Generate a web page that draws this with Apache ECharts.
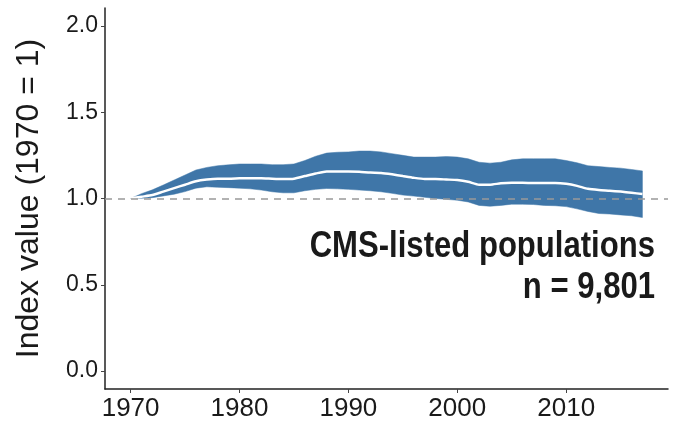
<!DOCTYPE html>
<html>
<head>
<meta charset="utf-8">
<script src="https://cdn.jsdelivr.net/npm/echarts@6/dist/echarts.min.js"></script>
<style>
    html, body { margin: 0; padding: 0; background: #fff; }
    #main { width: 685px; height: 430px; }
</style>
</head>
<body>
<div id="main"></div>
<script>
// years of the index
var yearAry = [1970, 1971, 1972, 1973, 1974, 1975, 1976, 1977, 1978, 1979,
    1980, 1981, 1982, 1983, 1984, 1985, 1986, 1987, 1988, 1989,
    1990, 1991, 1992, 1993, 1994, 1995, 1996, 1997, 1998, 1999,
    2000, 2001, 2002, 2003, 2004, 2005, 2006, 2007, 2008, 2009,
    2010, 2011, 2012, 2013, 2014, 2015, 2016, 2017];
// lower limit of the band
var lowerAry = [1.0, 1.002, 1.005, 1.015, 1.025, 1.04, 1.06, 1.068, 1.065, 1.063,
    1.06, 1.056, 1.049, 1.039, 1.033, 1.033, 1.045, 1.053, 1.058, 1.056,
    1.053, 1.049, 1.045, 1.039, 1.03, 1.02, 1.014, 1.007, 1.0, 0.995,
    0.99, 0.98, 0.96, 0.955, 0.96, 0.967, 0.967, 0.965, 0.96, 0.958,
    0.953, 0.94, 0.925, 0.913, 0.91, 0.905, 0.9, 0.89];
// index value (white line)
var indexAry = [1.0, 1.01, 1.02, 1.04, 1.06, 1.08, 1.10, 1.11, 1.115, 1.115,
    1.117, 1.118, 1.118, 1.115, 1.113, 1.115, 1.13, 1.145, 1.157, 1.157,
    1.157, 1.155, 1.15, 1.148, 1.14, 1.13, 1.12, 1.113, 1.113, 1.11,
    1.107, 1.097, 1.08, 1.08, 1.088, 1.091, 1.091, 1.09, 1.09, 1.09,
    1.085, 1.073, 1.056, 1.049, 1.045, 1.04, 1.033, 1.026];
// upper limit of the band
var upperAry = [1.0, 1.028, 1.05, 1.078, 1.107, 1.136, 1.165, 1.18, 1.19, 1.195,
    1.20, 1.20, 1.20, 1.196, 1.196, 1.20, 1.22, 1.245, 1.263, 1.268,
    1.27, 1.275, 1.275, 1.27, 1.26, 1.25, 1.24, 1.24, 1.24, 1.243,
    1.24, 1.23, 1.21, 1.205, 1.21, 1.224, 1.23, 1.23, 1.23, 1.23,
    1.22, 1.207, 1.19, 1.185, 1.18, 1.176, 1.168, 1.16];
var xTickAry = [1970, 1980, 1990, 2000, 2010];
var yTickAry = [0, 0.5, 1, 1.5, 2];
var titleText = 'CMS-listed populations';
var countText = 'n = 9,801';

var bandData = [], indexData = [];
for (var i = 0; i < yearAry.length; i++) {
    bandData.push([yearAry[i], lowerAry[i], upperAry[i]]);
    indexData.push([yearAry[i], indexAry[i]]);
}

var labelFont = "'Liberation Sans', Arial, Helvetica, sans-serif";
var chartDom = document.getElementById('main');
var myChart = echarts.init(chartDom, null, { renderer: 'canvas' });

// 置信带：所有点经坐标系换算后组成一个多边形
function renderBand(params, api) {
    if (params.dataIndex !== 0) return null;
    var top = [], bottom = [];
    for (var k = 0; k < bandData.length; k++) {
        top.push(api.coord([bandData[k][0], bandData[k][2]]));
        bottom.unshift(api.coord([bandData[k][0], bandData[k][1]]));
    }
    return {
        type: 'polygon',
        shape: { points: top.concat(bottom) },
        style: { fill: '#3f76a8', stroke: '#3f76a8', lineWidth: 0.5 }
    };
}

var option = {
    animation: false,
    grid: {
        left: 105,
        right: 17,
        top: 8,
        bottom: 41,
        containLabel: false,
        outerBoundsMode: 'none'
    },
    xAxis: {
        type: 'value',
        min: 1967.65,
        max: 2019.35,
        splitLine: { show: false },
        axisLine: { show: true, onZero: false, lineStyle: { color: '#222', width: 1.5 } },
        axisTick: {
            show: true,
            length: 4,
            customValues: xTickAry,
            lineStyle: { color: '#444', width: 1 }
        },
        axisLabel: {
            customValues: xTickAry,
            color: '#1a1a1a',
            fontFamily: labelFont,
            fontSize: 26,
            margin: 7,
            formatter: function (v) { return String(v); }
        }
    },
    yAxis: {
        type: 'value',
        min: -0.104,
        max: 2.104,
        name: 'Index value (1970 = 1)',
        nameLocation: 'middle',
        nameRotate: 90,
        nameGap: 60,
        nameTextStyle: {
            color: '#1a1a1a',
            fontFamily: labelFont,
            fontSize: 32
        },
        splitLine: { show: false },
        axisLine: { show: true, onZero: false, lineStyle: { color: '#222', width: 1.5 } },
        axisTick: {
            show: true,
            length: 4,
            customValues: yTickAry,
            lineStyle: { color: '#444', width: 1 }
        },
        axisLabel: {
            customValues: yTickAry,
            color: '#1a1a1a',
            fontFamily: labelFont,
            fontSize: 23,
            margin: 7,
            formatter: function (v) { return v.toFixed(1); }
        }
    },
    series: [
        {
            name: 'band',
            type: 'custom',
            data: bandData,
            encode: { x: 0, y: [1, 2] },
            renderItem: renderBand,
            silent: true,
            z: 2
        },
        {
            name: 'index',
            type: 'line',
            data: indexData,
            smooth: 0.2,
            showSymbol: false,
            lineStyle: { color: '#ffffff', width: 2.5 },
            z: 3,
            // 参考虚线 y = 1
            markLine: {
                silent: true,
                symbol: ['none', 'none'],
                label: { show: false },
                lineStyle: { color: '#999', width: 1.5, type: [7, 6] },
                data: [{ yAxis: 1 }]
            }
        }
    ],
    graphic: [
        {
            type: 'text',
            x: 655,
            y: 247,
            scaleX: 0.84,
            z: 10,
            style: {
                text: titleText,
                align: 'right',
                verticalAlign: 'middle',
                fill: '#1a1a1a',
                font: "bold 37px " + labelFont
            }
        },
        {
            type: 'text',
            x: 655,
            y: 288,
            scaleX: 0.84,
            z: 10,
            style: {
                text: countText,
                align: 'right',
                verticalAlign: 'middle',
                fill: '#1a1a1a',
                font: "bold 37px " + labelFont
            }
        }
    ]
};

// 使用刚指定的配置项和数据显示图表。
myChart.setOption(option);
</script>
</body>
</html>
